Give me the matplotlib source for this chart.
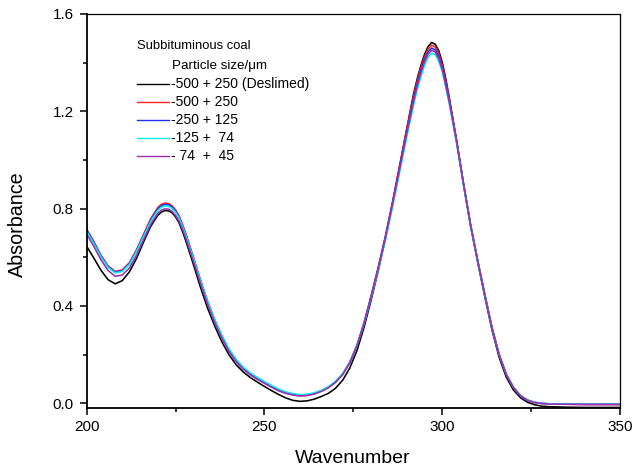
import matplotlib
matplotlib.use("Agg")
import matplotlib.pyplot as plt
from matplotlib.ticker import MultipleLocator, FormatStrFormatter
from matplotlib.lines import Line2D

plt.rcParams['font.family'] = ['Liberation Sans', 'DejaVu Sans']

wavenumber = ([200, 202, 204, 206, 208, 210, 212, 214, 216, 218, 220]
              + [221, 222, 223, 224, 225, 226, 227, 228]
              + list(range(230, 291, 2))
              + list(range(291, 303))
              + list(range(304, 331, 2))
              + [335, 340, 345, 350])

deslimed_500_250 = [0.645, 0.597, 0.547, 0.508, 0.491, 0.504, 0.540, 0.595, 0.663, 0.727, 0.773,
                    0.786, 0.792, 0.791, 0.783, 0.766, 0.741, 0.704, 0.662,
                    0.571, 0.477, 0.391, 0.318, 0.253, 0.200, 0.159, 0.129, 0.106, 0.087, 0.069,
                    0.052, 0.036, 0.022, 0.012, 0.008, 0.010, 0.017, 0.028, 0.041, 0.062, 0.095,
                    0.145, 0.216, 0.312, 0.424, 0.545, 0.676, 0.820, 0.973, 1.126,
                    1.202, 1.276, 1.336, 1.388, 1.433, 1.466, 1.483, 1.476, 1.450, 1.402, 1.334, 1.254,
                    1.082, 0.898, 0.727, 0.578, 0.436, 0.301, 0.189, 0.108, 0.055, 0.023, 0.004,
                    -0.006, -0.012, -0.014,
                    -0.016, -0.017, -0.017, -0.017]

size_500_250 = [0.715, 0.665, 0.609, 0.565, 0.542, 0.548, 0.578, 0.631, 0.695, 0.759, 0.805,
                0.818, 0.823, 0.821, 0.812, 0.795, 0.770, 0.733, 0.693,
                0.601, 0.506, 0.418, 0.341, 0.275, 0.219, 0.176, 0.144, 0.120, 0.101, 0.084,
                0.068, 0.053, 0.042, 0.035, 0.031, 0.033, 0.039, 0.050, 0.065, 0.087, 0.119,
                0.167, 0.237, 0.330, 0.441, 0.559, 0.687, 0.827, 0.976, 1.125,
                1.196, 1.266, 1.327, 1.379, 1.423, 1.456, 1.472, 1.465, 1.438, 1.392, 1.325, 1.249,
                1.086, 0.904, 0.733, 0.585, 0.445, 0.310, 0.200, 0.119, 0.065, 0.031, 0.012,
                0.003, -0.001, -0.003,
                -0.004, -0.005, -0.005, -0.005]

size_250_125 = [0.712, 0.662, 0.606, 0.562, 0.539, 0.545, 0.574, 0.626, 0.690, 0.753, 0.799,
                0.812, 0.817, 0.816, 0.807, 0.790, 0.765, 0.729, 0.689,
                0.598, 0.505, 0.418, 0.342, 0.277, 0.221, 0.178, 0.146, 0.122, 0.103, 0.086,
                0.070, 0.055, 0.044, 0.037, 0.033, 0.035, 0.041, 0.052, 0.067, 0.089, 0.121,
                0.169, 0.238, 0.330, 0.440, 0.557, 0.683, 0.822, 0.968, 1.115,
                1.185, 1.254, 1.315, 1.367, 1.411, 1.444, 1.460, 1.453, 1.427, 1.381, 1.316, 1.242,
                1.081, 0.901, 0.732, 0.585, 0.446, 0.311, 0.201, 0.120, 0.066, 0.032, 0.013,
                0.004, 0.000, -0.002,
                -0.003, -0.004, -0.004, -0.004]

size_125_74 = [0.706, 0.657, 0.602, 0.559, 0.536, 0.542, 0.571, 0.623, 0.686, 0.748, 0.793,
               0.806, 0.811, 0.810, 0.801, 0.785, 0.761, 0.725, 0.686,
               0.596, 0.505, 0.419, 0.344, 0.280, 0.224, 0.181, 0.149, 0.125, 0.106, 0.089,
               0.073, 0.058, 0.047, 0.040, 0.035, 0.037, 0.043, 0.053, 0.068, 0.090, 0.121,
               0.168, 0.236, 0.326, 0.433, 0.547, 0.670, 0.806, 0.948, 1.093,
               1.162, 1.230, 1.291, 1.343, 1.388, 1.422, 1.439, 1.433, 1.407, 1.362, 1.298, 1.229,
               1.073, 0.895, 0.727, 0.581, 0.443, 0.309, 0.200, 0.120, 0.066, 0.032, 0.013,
               0.004, 0.000, -0.002,
               -0.003, -0.004, -0.004, -0.004]

size_74_45 = [0.695, 0.645, 0.590, 0.546, 0.522, 0.527, 0.556, 0.608, 0.672, 0.735, 0.781,
              0.794, 0.799, 0.798, 0.789, 0.772, 0.748, 0.713, 0.673,
              0.584, 0.493, 0.407, 0.332, 0.268, 0.213, 0.171, 0.140, 0.117, 0.098, 0.082,
              0.066, 0.051, 0.041, 0.034, 0.030, 0.032, 0.038, 0.049, 0.064, 0.086, 0.118,
              0.166, 0.235, 0.327, 0.437, 0.553, 0.678, 0.816, 0.961, 1.107,
              1.176, 1.245, 1.306, 1.358, 1.402, 1.435, 1.451, 1.444, 1.418, 1.372, 1.307, 1.237,
              1.077, 0.898, 0.729, 0.583, 0.444, 0.310, 0.200, 0.119, 0.065, 0.031, 0.012,
              0.003, -0.001, -0.003,
              -0.004, -0.005, -0.005, -0.005]

labels = ["-500 + 250 (Deslimed)", "-500 + 250", "-250 + 125", "-125 +  74", "- 74  +  45"]
series = [deslimed_500_250, size_500_250, size_250_125, size_125_74, size_74_45]
colors = ["#000000", "#ff2020", "#2030f0", "#00f0f0", "#9b30b5"]

W, H = 635, 473
fig = plt.figure(figsize=(W / 100, H / 100), dpi=100)
ax = fig.add_axes([86.7 / W, 1 - 408.3 / H, (620 - 86.7) / W, (408.3 - 14) / H])

handles = []
for y, c, lab in zip(series, colors, labels):
    h, = ax.plot(wavenumber, y, color=c, lw=1.15, label=lab, solid_joinstyle='round')
    handles.append(h)

ax.set_xlim(200, 350)
ax.set_ylim(-0.0206, 1.6)
ax.xaxis.set_major_locator(MultipleLocator(50))
ax.xaxis.set_minor_locator(MultipleLocator(25))
ax.yaxis.set_major_locator(MultipleLocator(0.4))
ax.yaxis.set_minor_locator(MultipleLocator(0.2))
ax.yaxis.set_major_formatter(FormatStrFormatter('%.1f'))
ax.tick_params(which='major', direction='out', length=5, width=1.1, labelsize=11,
               top=False, right=False)
ax.tick_params(which='minor', direction='out', length=3, width=1.1, top=False, right=False)
ax.tick_params(axis='x', pad=3.2)
ax.tick_params(axis='y', pad=4.3)
for s in ['left', 'bottom']:
    ax.spines[s].set_linewidth(1.3)
for s in ['top', 'right']:
    ax.spines[s].set_linewidth(0.9)

def fx(px):
    return px / W

def fy(py):
    return 1 - py / H

fig.text(fx(353), fy(458), "Wavenumber", fontsize=14, ha='center', va='center')
fig.text(fx(17), fy(224.5), "Absorbance", fontsize=14.2, ha='center', va='center', rotation=90)

fig.text(fx(137), fy(46), "Subbituminous coal", fontsize=9.4, va='center', ha='left')
fig.text(fx(172), fy(66), "Particle size/\u03bcm", fontsize=9.6, va='center', ha='left')
rows = [84, 102, 120, 138, 156]
for py, h, lab in zip(rows, handles, labels):
    fig.add_artist(Line2D([fx(137), fx(169)], [fy(py), fy(py)], color=h.get_color(), lw=1.0,
                          transform=fig.transFigure))
    fig.text(fx(171), fy(py), lab, fontsize=10, va='center', ha='left')

fig.savefig("out.png", dpi=100)
